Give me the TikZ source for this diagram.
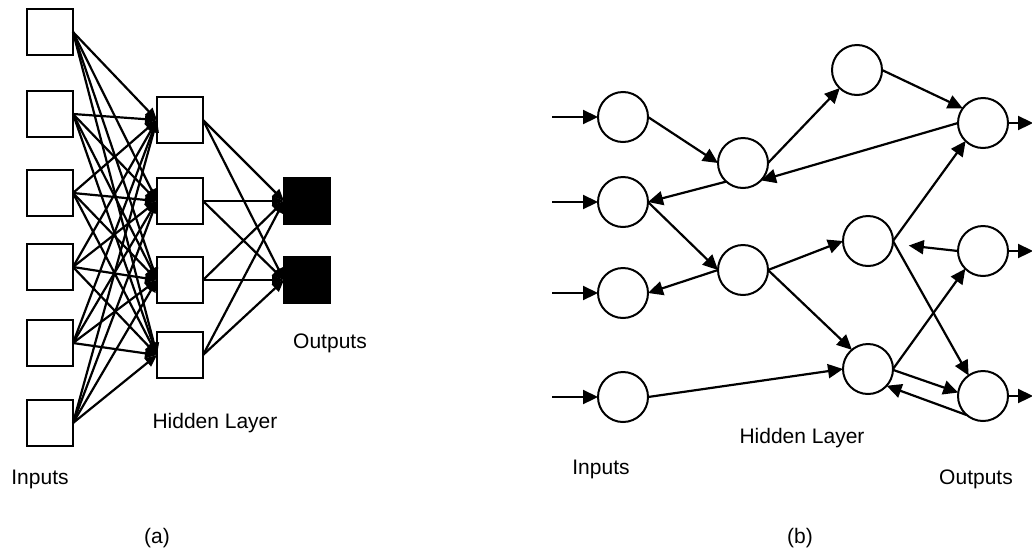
\documentclass[tikz,border=0pt]{standalone}
\usepackage{fontspec}
\setmainfont{Liberation Sans}
\usetikzlibrary{arrows.meta}
\begin{document}
\begin{tikzpicture}[x=0.5pt,y=-0.5pt,
  lbl/.style={font=\fontsize{10.5}{12}\selectfont, inner sep=0},
  sq/.style={draw, line width=1pt, minimum size=23pt, inner sep=0, outer sep=0, fill=white},
  sqout/.style={sq, fill=black},
  neuron/.style={draw, circle, line width=1pt, minimum size=25pt, inner sep=0, outer sep=0},
  link/.style={line width=1.1pt, -{Triangle[length=6pt,width=5pt]}},
  blink/.style={line width=1.1pt, -{Triangle[length=7.5pt,width=7pt]}},
]
\useasboundingbox (0,0) rectangle (1032,552);

% ---------- (a) fully connected feed-forward network ----------
\foreach \i/\y in {1/32,2/114,3/193,4/267,5/343,6/423}
  \node[sq] (a-in\i) at (50,\y) {};
\foreach \j/\y in {1/120,2/201,3/280,4/355}
  \node[sq] (a-hid\j) at (180,\y) {};
\foreach \k/\y in {1/201,2/280}
  \node[sqout] (a-out\k) at (307,\y) {};

\foreach \i in {1,...,6}
  \foreach \j in {1,...,4}
    \draw[link] (a-in\i.east) -- (a-hid\j.west);
\foreach \j in {1,...,4}
  \foreach \k in {1,2}
    \draw[link] (a-hid\j.east) -- (a-out\k.west);

\node[lbl] (a-inputs) at (40,479) {Inputs};
\node[lbl] (a-hidden) at (215,423) {Hidden Layer};
\node[lbl] (a-outputs) at (330,343) {Outputs};
\node[lbl] (a-cap) at (157,538) {(a)};

% ---------- (b) recurrent network ----------
\node[neuron] (I1) at (623,117) {};
\node[neuron] (I2) at (623,202) {};
\node[neuron] (I3) at (623,293) {};
\node[neuron] (I4) at (623,397) {};
\node[neuron] (H1) at (743,163) {};
\node[neuron] (H2) at (743,270) {};
\node[neuron] (T) at (857,70) {};
\node[neuron] (M) at (868,241) {};
\node[neuron] (B) at (868,369) {};
\node[neuron] (O1) at (983,123) {};
\node[neuron] (O2) at (983,251) {};
\node[neuron] (O3) at (983,396) {};

% external inputs and outputs
\foreach \n/\y in {I1/117,I2/202,I3/293,I4/397} {
  \coordinate (src-\n) at (552,\y);
  \draw[blink] (src-\n) -- (\n.west);
}
\foreach \n/\y in {O1/123,O2/251,O3/396} {
  \coordinate (dst-\n) at (1033,\y);
  \draw[blink] (\n.east) -- (dst-\n);
}

% internal connections
\draw[blink] (I1.east) -- (H1.west);
\draw[blink] (H1.228) -- (I2.east);
\draw[blink] (I2.east) -- (H2.west);
\draw[blink] (H2.west) -- (I3.east);
\draw[blink] (I4.east) -- (B.west);
\draw[blink] (H1.east) -- (T);
\draw[blink] (T.east) -- (O1.144);
\draw[blink] (O1.west) -- (H1.-44);
\draw[blink] (H2.east) -- (M.west);
\draw[blink] (H2.east) -- (B.130);
\draw[blink] (M.east) -- (O1.226);
\draw[blink] (M.east) -- (O3.125);
\draw[blink, shorten >=8pt] (O2.west) -- (M);
\draw[blink] (B.east) -- (O2.225);
\draw[blink] (B.-2) -- (O3.172);
\draw[blink] (O3.230) -- (B.-42);

\node[lbl] (b-inputs) at (601,469) {Inputs};
\node[lbl] (b-hidden) at (802,438) {Hidden Layer};
\node[lbl] (b-outputs) at (976,479) {Outputs};
\node[lbl] (b-cap) at (800,538) {(b)};
\end{tikzpicture}
\end{document}
